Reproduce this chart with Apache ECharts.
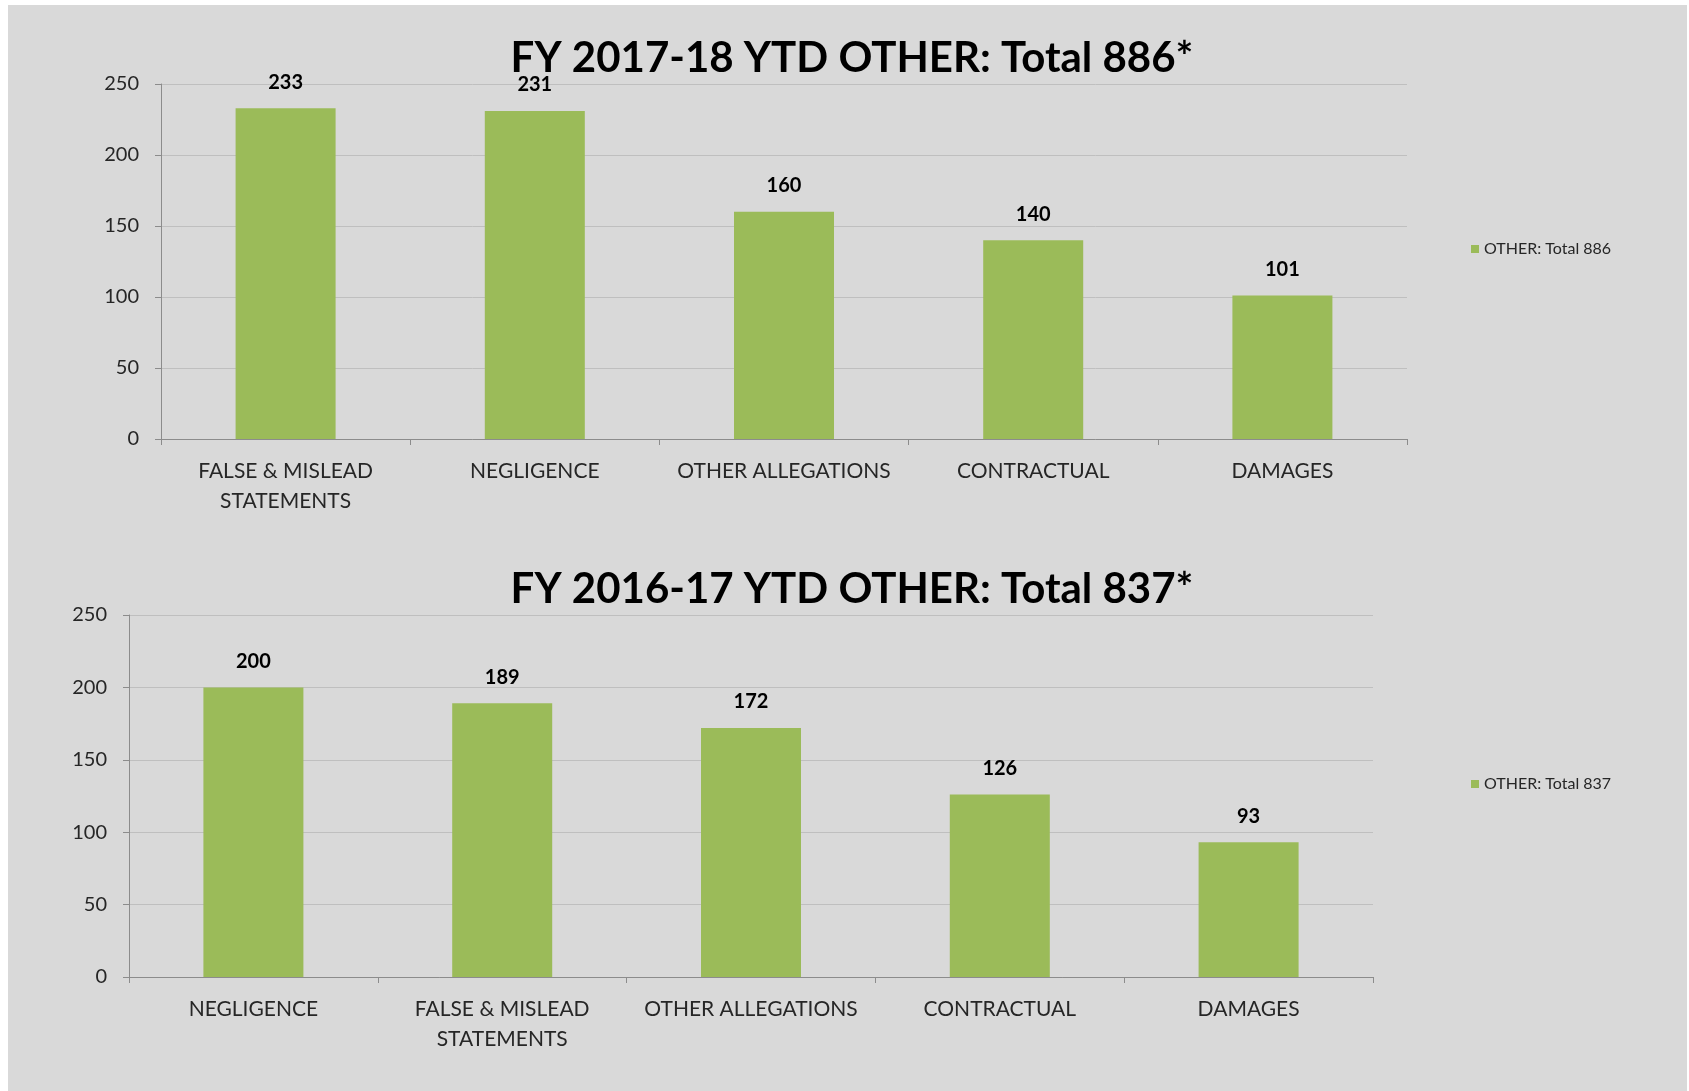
<!DOCTYPE html>
<html>
<head>
<meta charset="utf-8">
<script src="https://cdn.jsdelivr.net/npm/echarts@6/dist/echarts.min.js"></script>
<style>
  html, body { margin: 0; padding: 0; background: #ffffff; }
  #bg { position: absolute; left: 8px; top: 5px; width: 1679px; height: 1086px; background: #d9d9d9; }
  #main { position: absolute; left: 0; top: 0; width: 1689px; height: 1091px; }
</style>
</head>
<body>
<div id="bg"></div>
<div id="main"></div>
<script>
// FY 2017-18 (top chart)
var categories1718 = ['FALSE & MISLEAD\nSTATEMENTS', 'NEGLIGENCE', 'OTHER ALLEGATIONS', 'CONTRACTUAL', 'DAMAGES'];
var values1718 = [233, 231, 160, 140, 101];
// FY 2016-17 (bottom chart)
var categories1617 = ['NEGLIGENCE', 'FALSE & MISLEAD\nSTATEMENTS', 'OTHER ALLEGATIONS', 'CONTRACTUAL', 'DAMAGES'];
var values1617 = [200, 189, 172, 126, 93];
// y axis ticks
var yMin = 0, yMax = 250, yStep = 50;

var font = 'Lato, "Liberation Sans", sans-serif';
var barColor = '#9bbb59';
var axisColor = '#8c8c8c';
var gridColor = '#bfbfbf';

function xAxis(idx, cats) {
  return {
    type: 'category',
    gridIndex: idx,
    data: cats,
    axisLine: { lineStyle: { color: axisColor, width: 1 } },
    axisTick: { show: true, length: 6, lineStyle: { color: axisColor } },
    axisLabel: { color: '#262626', fontFamily: font, fontSize: 21, margin: 17, lineHeight: 30, interval: 0 }
  };
}
function yAxis(idx) {
  return {
    type: 'value',
    gridIndex: idx,
    min: yMin, max: yMax, interval: yStep,
    axisLine: { show: true, lineStyle: { color: axisColor, width: 1 } },
    axisTick: { show: true, length: 6, lineStyle: { color: axisColor } },
    axisLabel: { color: '#262626', fontFamily: font, fontSize: 20, margin: 22 },
    splitLine: { lineStyle: { color: gridColor, width: 1 } }
  };
}
function barSeries(name, idx, vals) {
  return {
    name: name,
    type: 'bar',
    xAxisIndex: idx,
    yAxisIndex: idx,
    data: vals,
    barWidth: 100,
    itemStyle: { color: barColor },
    label: { show: true, position: 'top', distance: 16, color: '#000', fontFamily: font, fontSize: 20, fontWeight: 'bold' }
  };
}

var chart = echarts.init(document.getElementById('main'));
var option = {
  backgroundColor: 'transparent',
  animation: false,
  title: [
    { text: 'FY 2017-18 YTD OTHER: Total 886*', left: 847, top: 32, textAlign: 'center',
      textStyle: { fontFamily: font, fontSize: 42, fontWeight: 'bold', color: '#000' } },
    { text: 'FY 2016-17 YTD OTHER: Total 837*', left: 847, top: 563, textAlign: 'center',
      textStyle: { fontFamily: font, fontSize: 42, fontWeight: 'bold', color: '#000' } }
  ],
  legend: [
    { data: ['OTHER: Total 886'], left: 1471, top: 241, padding: 0, icon: 'rect', itemWidth: 8, itemHeight: 8,
      textStyle: { fontFamily: font, fontSize: 16, color: '#262626' } },
    { data: ['OTHER: Total 837'], left: 1471, top: 776, padding: 0, icon: 'rect', itemWidth: 8, itemHeight: 8,
      textStyle: { fontFamily: font, fontSize: 16, color: '#262626' } }
  ],
  grid: [
    { left: 161, top: 84, width: 1246, height: 355 },
    { left: 129, top: 615, width: 1244, height: 362 }
  ],
  xAxis: [xAxis(0, categories1718), xAxis(1, categories1617)],
  yAxis: [yAxis(0), yAxis(1)],
  series: [
    barSeries('OTHER: Total 886', 0, values1718),
    barSeries('OTHER: Total 837', 1, values1617)
  ]
};
option && chart.setOption(option);
</script>
</body>
</html>
